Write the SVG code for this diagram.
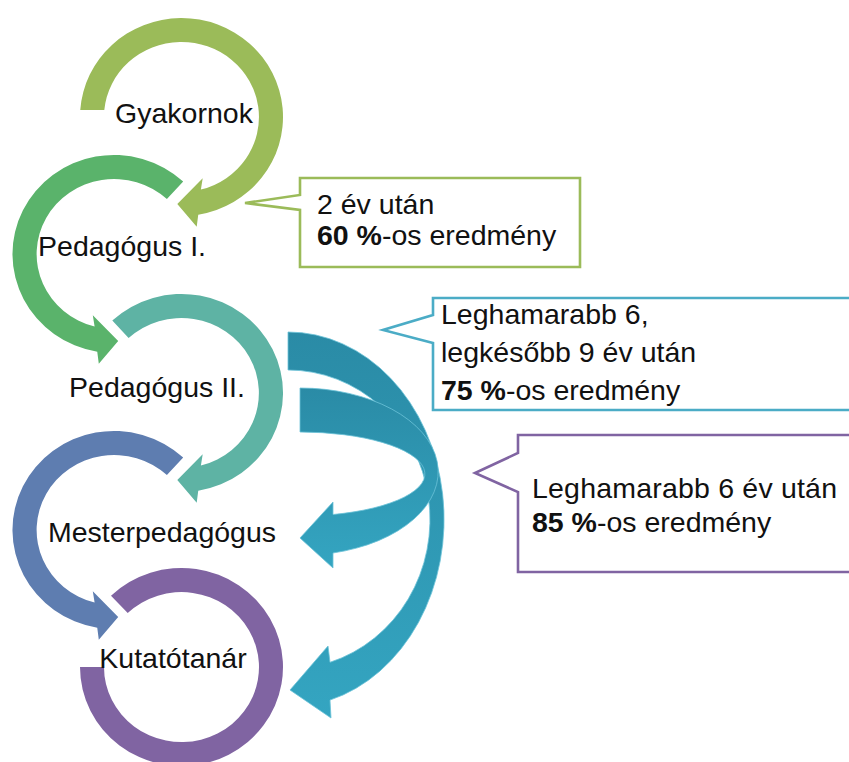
<svg xmlns="http://www.w3.org/2000/svg" width="849" height="762" viewBox="0 0 849 762">
  <defs>
    <linearGradient id="tealGrad" x1="0" y1="0" x2="0" y2="1">
      <stop offset="0" stop-color="#2A8BA6"/>
      <stop offset="1" stop-color="#34A5C1"/>
    </linearGradient>
  </defs>
  <style>
    .lbl { font-family: "Liberation Sans", Arial, sans-serif; font-size: 28.5px; fill: #111; text-anchor: middle; }
    .txt { font-family: "Liberation Sans", Arial, sans-serif; font-size: 28.5px; fill: #111; }
    .b { font-weight: bold; }
    .box { fill: #ffffff; stroke-width: 2.6; stroke-linejoin: miter; }
    .big { fill: url(#tealGrad); stroke: #6cc3d8; stroke-width: 0.8; }
  </style>
  <rect width="849" height="762" fill="#ffffff"/>

  <g id="gyakornok">
    <path fill="#9BBB59" d="M 80.25,110.1 A 101.5 99 0 1 1 198.25,214.64 L 196.7,226.7 L 177.3,204 L 202.7,178.3 L 200.9,189.6 A 77.5 75 0 1 0 104.3,110 Z"/>
    <text class="lbl" x="184" y="123">Gyakornok</text>
  </g>

  <g id="pedagogus1">
    <path fill="#5AB36B" d="M 183.2,181.6 A 101.5 99 0 1 0 97.25,351.64 L 98.8,363.7 L 118.2,341 L 92.8,315.3 L 94.6,326.6 A 77.5 75 0 1 1 166.9,199.1 Z"/>
    <text class="lbl" x="122" y="256">Pedagógus I.</text>
  </g>

  <g id="pedagogus2">
    <path fill="#5EB3A4" d="M 112.3,320.6 A 101.5 99 0 1 1 198.25,490.64 L 196.7,502.7 L 177.3,480 L 202.7,454.3 L 200.9,465.6 A 77.5 75 0 1 0 128.6,338.1 Z"/>
    <text class="lbl" x="157" y="397">Pedagógus II.</text>
  </g>

  <g id="mesterpedagogus">
    <path fill="#5E7DB0" d="M 183.2,457.6 A 101.5 99 0 1 0 97.25,627.64 L 98.8,639.7 L 118.2,617 L 92.8,591.3 L 94.6,602.6 A 77.5 75 0 1 1 166.9,475.1 Z"/>
    <text class="lbl" x="162" y="542">Mesterpedagógus</text>
  </g>

  <g id="kutatotanar">
    <path fill="#8064A2" d="M 111,595.8 A 101.5 99 0 1 1 80,667 L 104,667 A 77.5 75 0 1 0 127.7,613.1 Z"/>
    <text class="lbl" x="173" y="668">Kutatótanár</text>
  </g>

  <g id="connectors">
    <path class="big" d="M 288,332 A 156 187.5 0 0 1 330,700.1 L 331,718 L 290,690 L 328,646 L 330,662.3 A 142 149.5 0 0 0 288,370 Z"/>
    <path class="big" d="M 300,388 A 138 83.7 0 0 1 333,553 L 333,568 L 300,538 L 333,502 L 333,514.5 A 125 42 0 0 0 300,432 Z"/>
  </g>

  <g id="callout1">
    <path class="box" stroke="#9BBB59" d="M 300,178 H 580 V 267 H 300 V 210 L 245,203 L 300,195 Z"/>
    <text class="txt" x="317" y="214">2 év után</text>
    <text class="txt" x="317" y="245"><tspan class="b">60 %</tspan>-os eredmény</text>
  </g>

  <g id="callout2">
    <path class="box" stroke="#4BACC6" d="M 433,298 H 870 V 410 H 433 V 343 L 383,330 L 433,315 Z"/>
    <text class="txt" x="441" y="324">Leghamarabb 6,</text>
    <text class="txt" x="441" y="362">legkésőbb 9 év után</text>
    <text class="txt" x="441" y="400"><tspan class="b">75 %</tspan>-os eredmény</text>
  </g>

  <g id="callout3">
    <path class="box" stroke="#8064A2" d="M 518,435 H 870 V 572 H 518 V 492 L 475,473 L 518,453 Z"/>
    <text class="txt" x="532" y="498" textLength="305">Leghamarabb 6 év után</text>
    <text class="txt" x="532" y="532"><tspan class="b">85 %</tspan>-os eredmény</text>
  </g>
</svg>
